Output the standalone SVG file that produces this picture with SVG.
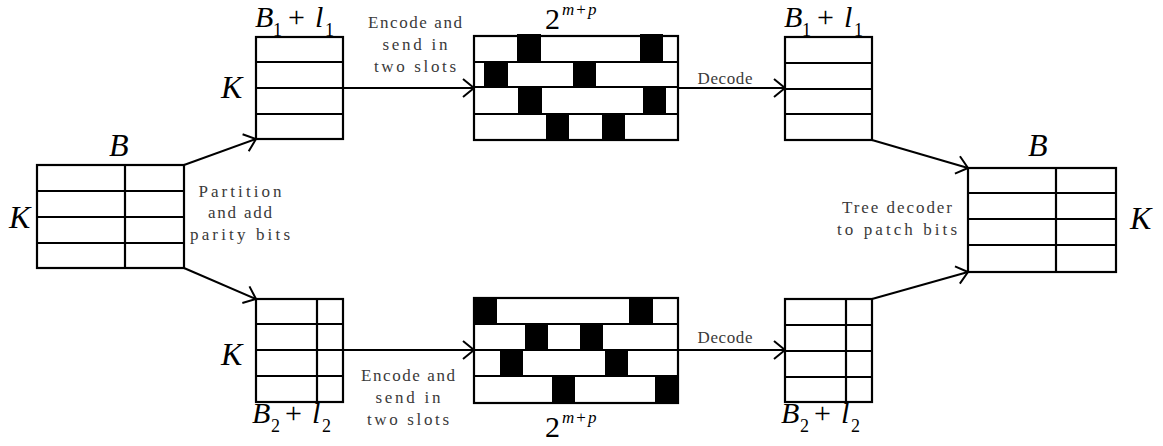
<svg xmlns="http://www.w3.org/2000/svg" width="1163" height="446" viewBox="0 0 1163 446">
<style>
.box{fill:#fff;stroke:#000;stroke-width:2.2}
.ln{stroke:#000;stroke-width:2.2;fill:none}
.blk{fill:#000}
.conn{stroke:#000;stroke-width:2;fill:none;marker-end:url(#arr)}
.mono{font-family:"Liberation Serif","DejaVu Serif",serif;font-size:17px;fill:#3a3a3a;text-anchor:middle}
.math{font-family:"Liberation Serif","DejaVu Serif",serif;fill:#000}
.it{font-style:italic}
</style>
<defs>
<marker id="arr" markerUnits="userSpaceOnUse" markerWidth="16" markerHeight="22" viewBox="0 0 16 22" refX="13" refY="11" orient="auto">
<path d="M2,2 L13,11 L2,20" fill="none" stroke="#000" stroke-width="2"/>
</marker>
</defs>

<g id="connectors">
<line class="conn" x1="184" y1="165" x2="256" y2="139"/>
<line class="conn" x1="184" y1="268" x2="256" y2="299"/>
<line class="conn" x1="343" y1="88" x2="474" y2="88"/>
<line class="conn" x1="343" y1="350" x2="474" y2="350"/>
<line class="conn" x1="678" y1="88" x2="785" y2="88"/>
<line class="conn" x1="678" y1="350" x2="785" y2="350"/>
<line class="conn" x1="872" y1="140" x2="968" y2="168"/>
<line class="conn" x1="872" y1="299" x2="968" y2="272"/>
</g>

<g id="node-input">
<rect class="box" x="37" y="165" width="147" height="103"/>
<path class="ln" d="M37,191H184M37,217H184M37,243H184M125,165V268"/>
<text class="math it" x="109" y="156" font-size="32">B</text>
<text class="math it" x="9" y="228" font-size="32">K</text>
</g>

<g id="node-top-part">
<rect class="box" x="256" y="37" width="87" height="102"/>
<path class="ln" d="M256,62H343M256,88H343M256,114H343"/>
<text class="math" y="27" font-size="30"><tspan class="it" x="255">B</tspan><tspan x="273" y="36" font-size="18">1</tspan><tspan x="288" y="27">+</tspan><tspan class="it" x="315">l</tspan><tspan x="325" y="36" font-size="18">1</tspan></text>
<text class="math it" x="221" y="98" font-size="32">K</text>
</g>

<g id="node-bot-part">
<rect class="box" x="256" y="299" width="87" height="103"/>
<path class="ln" d="M256,324H343M256,350H343M256,376H343M317,299V402"/>
<text class="math" y="423" font-size="30"><tspan class="it" x="252">B</tspan><tspan x="271" y="432" font-size="18">2</tspan><tspan x="285" y="423">+</tspan><tspan class="it" x="312">l</tspan><tspan x="322" y="432" font-size="18">2</tspan></text>
<text class="math it" x="221" y="365" font-size="32">K</text>
</g>

<g id="node-top-code">
<rect class="box" x="474" y="36" width="204" height="104"/>
<path class="ln" d="M474,62H678M474,87H678M474,114H678"/>
<rect class="blk" x="517" y="34" width="24" height="29"/>
<rect class="blk" x="640" y="34" width="23" height="29"/>
<rect class="blk" x="484" y="61" width="24" height="27"/>
<rect class="blk" x="573" y="61" width="23" height="27"/>
<rect class="blk" x="518" y="86" width="24" height="29"/>
<rect class="blk" x="643" y="86" width="23" height="29"/>
<rect class="blk" x="546" y="113" width="23" height="28"/>
<rect class="blk" x="602" y="113" width="23" height="28"/>
<text class="math" x="545" y="29" font-size="30">2</text>
<text class="math" y="15" font-size="17"><tspan class="it" x="562">m</tspan><tspan dx="2">+</tspan><tspan class="it" dx="2">p</tspan></text>
</g>

<g id="node-bot-code">
<rect class="box" x="474" y="298" width="204" height="105"/>
<path class="ln" d="M474,324H678M474,350H678M474,376H678"/>
<rect class="blk" x="474" y="297" width="23" height="28"/>
<rect class="blk" x="629" y="297" width="24" height="28"/>
<rect class="blk" x="525" y="323" width="23" height="28"/>
<rect class="blk" x="580" y="323" width="23" height="28"/>
<rect class="blk" x="500" y="349" width="23" height="28"/>
<rect class="blk" x="605" y="349" width="23" height="28"/>
<rect class="blk" x="552" y="375" width="23" height="29"/>
<rect class="blk" x="655" y="375" width="23" height="29"/>
<text class="math" x="545" y="437" font-size="30">2</text>
<text class="math" y="423" font-size="17"><tspan class="it" x="562">m</tspan><tspan dx="2">+</tspan><tspan class="it" dx="2">p</tspan></text>
</g>

<g id="node-top-dec">
<rect class="box" x="785" y="37" width="87" height="103"/>
<path class="ln" d="M785,63H872M785,89H872M785,114H872"/>
<text class="math" y="27" font-size="30"><tspan class="it" x="784">B</tspan><tspan x="802" y="36" font-size="18">1</tspan><tspan x="817" y="27">+</tspan><tspan class="it" x="844">l</tspan><tspan x="854" y="36" font-size="18">1</tspan></text>
</g>

<g id="node-bot-dec">
<rect class="box" x="785" y="299" width="87" height="103"/>
<path class="ln" d="M785,325H872M785,351H872M785,377H872M846,299V402"/>
<text class="math" y="423" font-size="30"><tspan class="it" x="781">B</tspan><tspan x="800" y="432" font-size="18">2</tspan><tspan x="814" y="423">+</tspan><tspan class="it" x="841">l</tspan><tspan x="851" y="432" font-size="18">2</tspan></text>
</g>

<g id="node-output">
<rect class="box" x="968" y="168" width="148" height="104"/>
<path class="ln" d="M968,193H1116M968,219H1116M968,245H1116M1056,168V272"/>
<text class="math it" x="1028" y="156" font-size="32">B</text>
<text class="math it" x="1130" y="229" font-size="32">K</text>
</g>

<g id="labels">
<text class="mono" x="240" y="197" textLength="83" lengthAdjust="spacing">Partition</text>
<text class="mono" x="240" y="218" textLength="64" lengthAdjust="spacing">and add</text>
<text class="mono" x="240" y="240" textLength="100" lengthAdjust="spacing">parity bits</text>
<text class="mono" x="415" y="28" textLength="94" lengthAdjust="spacing">Encode and</text>
<text class="mono" x="415" y="50" textLength="65" lengthAdjust="spacing">send in</text>
<text class="mono" x="415" y="72" textLength="82" lengthAdjust="spacing">two slots</text>
<text class="mono" x="408" y="381" textLength="94" lengthAdjust="spacing">Encode and</text>
<text class="mono" x="408" y="403" textLength="65" lengthAdjust="spacing">send in</text>
<text class="mono" x="408" y="425" textLength="82" lengthAdjust="spacing">two slots</text>
<text class="mono" x="725" y="84" textLength="55" lengthAdjust="spacing">Decode</text>
<text class="mono" x="725" y="343" textLength="55" lengthAdjust="spacing">Decode</text>
<text class="mono" x="897" y="213" textLength="110" lengthAdjust="spacing">Tree decoder</text>
<text class="mono" x="897" y="235" textLength="120" lengthAdjust="spacing">to patch bits</text>
</g>
</svg>
